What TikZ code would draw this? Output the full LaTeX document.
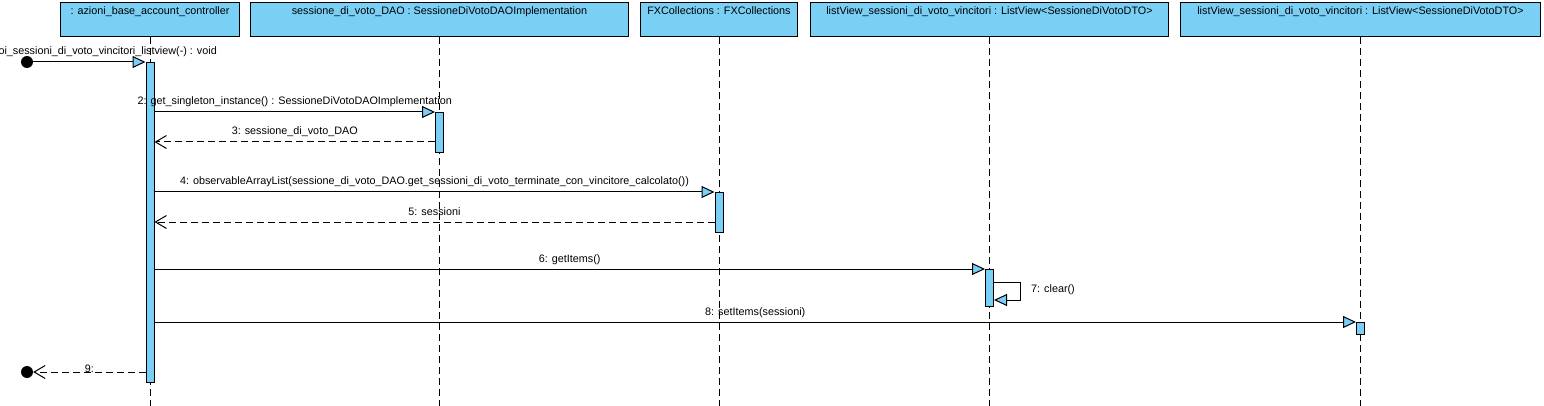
\documentclass[tikz,border=0pt]{standalone}
\usepackage{fontspec}
\setmainfont{Liberation Sans}
\usetikzlibrary{arrows.meta}
\definecolor{vpblue}{RGB}{122,207,245}
\tikzset{
  lbl/.style={font=\fontsize{10.8}{12}\selectfont, inner sep=0pt},
  head/.style={draw=black, fill=vpblue, line width=1pt, minimum height=34pt, inner sep=0pt, anchor=north west},
  headtext/.style={lbl, anchor=north, yshift=-4pt},
  act/.style={draw=black, fill=vpblue, line width=1pt, minimum width=8pt, inner sep=0pt, anchor=north},
  lifeline/.style={draw=black, line width=1pt, dash pattern=on 7pt off 4pt},
  call/.style={draw=black, line width=1pt, -{Triangle[length=13pt,width=12pt,fill=vpblue,line width=1pt]}},
  ret/.style={draw=black, line width=1pt, dash pattern=on 7pt off 4pt, -{Straight Barb[length=11pt,width=13pt,line width=1pt]}},
  msg/.style={lbl, midway, anchor=base, yshift=7pt},
  dot/.style={circle, fill=black, minimum size=12pt, inner sep=0pt},
}
\begin{document}
\begin{tikzpicture}[x=1pt,y=-1pt]
\useasboundingbox (0,0) rectangle (1544,406);
\clip (0,0) rectangle (1544,406);
% heads
\node[head, minimum width=179pt] (h1) at (60,2) {};
\node[head, minimum width=378pt] (h2) at (250,2) {};
\node[head, minimum width=157pt] (h3) at (640,2) {};
\node[head, minimum width=358pt] (h4) at (810,2) {};
\node[head, minimum width=360pt] (h5) at (1180,2) {};
\node[headtext] (t1) at (h1.north) {: azioni\_base\_account\_controller};
\node[headtext] (t2) at (h2.north) {sessione\_di\_voto\_DAO : SessioneDiVotoDAOImplementation};
\node[headtext] (t3) at (h3.north) {FXCollections : FXCollections};
\node[headtext] (t4) at (h4.north) {listView\_sessioni\_di\_voto\_vincitori : ListView<SessioneDiVotoDTO>};
\node[headtext] (t5) at (h5.north) {listView\_sessioni\_di\_voto\_vincitori : ListView<SessioneDiVotoDTO>};
% lifelines
\foreach \h in {h1,h2,h3,h4,h5}{
  \draw[lifeline] (\h.south) -- (\h.south |- 0,406);
}
% activations
\node[act, minimum height=320pt] (a1) at (h1.south |- 0,62) {};
\node[act, minimum height=40pt] (a2) at (h2.south |- 0,112) {};
\node[act, minimum height=40pt] (a3) at (h3.south |- 0,192) {};
\node[act, minimum height=37pt] (a4) at (h4.south |- 0,269) {};
\node[act, minimum height=12pt] (a5) at (h5.south |- 0,322) {};
% found / lost points
\node[dot] (start) at (27,62) {};
\node[dot] (stop) at (27,372) {};
\coordinate (self1) at (1020,282);
\coordinate (self2) at (1020,300);
% messages
\draw[call] (start.center) -- (a1.north west);
\node[lbl, anchor=base east] (m1) at (217,55) {oi\_sessioni\_di\_voto\_vincitori\_listview(-) : void};
\draw[call] (a1.east |- a2.north) -- (a2.north west)
  node[msg] {2: get\_singleton\_instance() : SessioneDiVotoDAOImplementation};
\draw[ret] (a2.west |- 0,142) -- (a1.east |- 0,142)
  node[msg] {3: sessione\_di\_voto\_DAO};
\draw[call] (a1.east |- a3.north) -- (a3.north west)
  node[msg] {4: observableArrayList(sessione\_di\_voto\_DAO.get\_sessioni\_di\_voto\_terminate\_con\_vincitore\_calcolato())};
\draw[ret] (a3.west |- 0,222) -- (a1.east |- 0,222)
  node[msg] {5: sessioni};
\draw[call] (a1.east |- a4.north) -- (a4.north west)
  node[msg] {6: getItems()};
\draw[call] (a4.east |- self1) -- (self1) -- (self2) -- (a4.east |- self2);
\node[lbl, anchor=west] (m7) at (1031,290) {7: clear()};
\draw[call] (a1.east |- a5.north) -- (a5.north west)
  node[msg] {8: setItems(sessioni)};
\draw[ret] (a1.west |- stop) -- (stop)
  node[lbl, midway, anchor=base, yshift=0pt] {9:};
\end{tikzpicture}
\end{document}
